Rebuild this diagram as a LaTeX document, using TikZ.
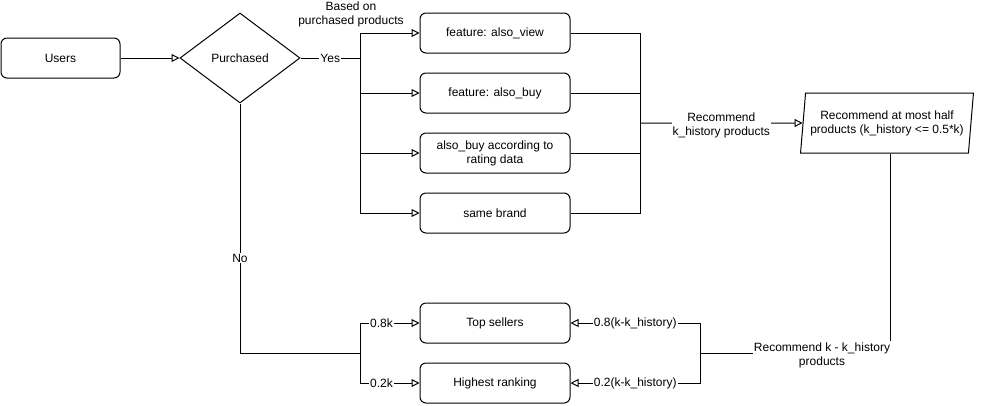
\documentclass[tikz,border=0pt]{standalone}
\usepackage{fontspec}
\setmainfont{Liberation Sans}
\usetikzlibrary{shapes.geometric, arrows.meta, positioning}

\begin{document}
\begin{tikzpicture}[
    x=1pt, y=-1pt,
    font=\fontsize{12}{14}\selectfont,
    node distance=19pt and 20pt,
    line width=1pt,
    block/.style={rectangle, draw, rounded corners=6pt, minimum height=40pt, minimum width=150pt, align=center, inner sep=1pt},
    decide/.style={diamond, draw, minimum width=120pt, minimum height=90pt, inner sep=1pt},
    outbox/.style={trapezium, trapezium left angle=80, trapezium right angle=100, draw, minimum width=173pt, minimum height=60pt, align=center, inner sep=1pt, trapezium stretches=true},
    arr/.style={-{Triangle[open, length=8pt, width=8pt]}},
    lbl/.style={fill=white, inner sep=1pt, align=center},
]
\useasboundingbox (0,0) rectangle (982,405);

% Start
\node[block, minimum width=119pt] (users) at (60.5,58) {Users};
\node[decide] (pur) at (240,58) {Purchased};
\draw[arr] (users) -- (pur);

% Purchased: history based
\node[block] (f1) at (495,33) {feature: also\_view};
\node[block, below=of f1] (f2) {feature: also\_buy};
\node[block, below=of f2] (f3) {also\_buy according to\\rating data};
\node[block, below=of f3] (f4) {same brand};
\node[align=center, inner sep=0pt] (based) at (351,14) {Based on\\purchased products};
\coordinate (ysplit) at (360,58);
\draw (pur.east) -- node[lbl]{Yes} (ysplit);
\foreach \f in {f1,f2,f3,f4}
  \draw[arr] (ysplit) |- (\f.west);

\node[outbox] (half) at (887,123) {Recommend at most half\\products (k\_history <= 0.5*k)};
\coordinate (rjoin) at (640,123);
\foreach \f in {f1,f2,f3,f4}
  \draw (\f.east) -| (rjoin);
\draw[arr] (rjoin) -- node[lbl, yshift=-2pt]{Recommend\\k\_history products} (half);

% Not purchased / remaining
\node[block] (top) at (495,323) {Top sellers};
\node[block, below=of top] (rank) {Highest ranking};
\coordinate (nsplit) at (360,353);
\coordinate (rsplit) at (700,353);
\draw (pur.south) |- node[lbl, pos=0.31]{No} (nsplit);
\draw[arr] (nsplit) |- node[lbl, pos=0.68]{0.8k} (top.west);
\draw[arr] (nsplit) |- node[lbl, pos=0.68]{0.2k} (rank.west);
\draw ([xshift=3pt]half.south) |- (rsplit);
\node[lbl] (rest) at (822,355) {Recommend k - k\_history\\products};
\draw[arr] (rsplit) |- node[lbl, pos=0.75]{0.8(k-k\_history)} (top.east);
\draw[arr] (rsplit) |- node[lbl, pos=0.75]{0.2(k-k\_history)} (rank.east);

\end{tikzpicture}
\end{document}
